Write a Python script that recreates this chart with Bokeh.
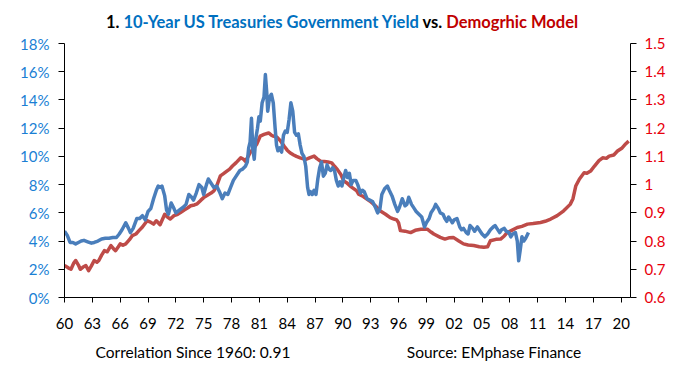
from bokeh.plotting import figure
from bokeh.models import (Range1d, LinearAxis, FixedTicker, CustomJSTickFormatter, Div)
from bokeh.layouts import column
from bokeh.embed import file_html
from bokeh.resources import INLINE

# ---------------- data ----------------
yield_years = [
    1960.0, 1960.3, 1960.6, 1960.9, 1961.2, 1961.5, 1961.8, 1962.1, 1962.5, 1962.9,
    1963.2, 1963.6, 1964.0, 1964.4, 1964.8, 1965.2, 1965.6, 1965.9, 1966.2, 1966.6,
    1966.9, 1967.1, 1967.4, 1967.8, 1968.1, 1968.4, 1968.7, 1969.0, 1969.3, 1969.6,
    1969.9, 1970.1, 1970.3, 1970.5, 1970.8, 1971.0, 1971.2, 1971.5, 1971.8, 1972.0,
    1972.4, 1972.8, 1973.1, 1973.4, 1973.7, 1973.9, 1974.2, 1974.5, 1974.8, 1975.0,
    1975.3, 1975.5, 1975.8, 1976.1, 1976.4, 1976.7, 1977.0, 1977.3, 1977.6, 1977.9,
    1978.2, 1978.5, 1978.9, 1979.2, 1979.5, 1979.7, 1979.85, 1980.0, 1980.15, 1980.3,
    1980.45, 1980.6, 1980.8, 1980.95, 1981.1, 1981.3, 1981.5, 1981.65, 1981.8, 1981.9,
    1982.1, 1982.3, 1982.5, 1982.7, 1982.85, 1983.0, 1983.2, 1983.4, 1983.6, 1983.8,
    1984.0, 1984.2, 1984.4, 1984.6, 1984.8, 1985.0, 1985.2, 1985.4, 1985.6, 1985.8,
    1986.0, 1986.2, 1986.35, 1986.5, 1986.7, 1986.9, 1987.1, 1987.3, 1987.5, 1987.7,
    1987.9, 1988.1, 1988.3, 1988.5, 1988.7, 1988.9, 1989.1, 1989.3, 1989.5, 1989.7,
    1989.9, 1990.1, 1990.3, 1990.5, 1990.7, 1990.9, 1991.1, 1991.4, 1991.6, 1991.9,
    1992.1, 1992.3, 1992.6, 1992.9, 1993.2, 1993.5, 1993.75, 1994.0, 1994.2, 1994.5,
    1994.8, 1995.0, 1995.3, 1995.6, 1995.9, 1996.1, 1996.4, 1996.7, 1996.9, 1997.1,
    1997.4, 1997.7, 1997.9, 1998.2, 1998.5, 1998.8, 1999.0, 1999.3, 1999.5, 1999.8,
    2000.0, 2000.3, 2000.5, 2000.8, 2001.0, 2001.2, 2001.4, 2001.6, 2001.8, 2002.0,
    2002.3, 2002.6, 2002.8, 2003.0, 2003.3, 2003.5, 2003.7, 2004.0, 2004.2, 2004.5,
    2004.8, 2005.0, 2005.3, 2005.6, 2005.9, 2006.2, 2006.4, 2006.6, 2006.9, 2007.1,
    2007.4, 2007.6, 2007.9, 2008.1, 2008.3, 2008.6, 2008.8, 2008.95, 2009.1, 2009.3,
    2009.5, 2009.7, 2009.85, 2010.0,
]
yield_pct = [
    4.7, 4.4, 3.9, 3.9, 3.8, 3.9, 4.0, 4.05, 3.95, 3.85,
    3.9, 4.0, 4.15, 4.2, 4.2, 4.25, 4.25, 4.5, 4.8, 5.3,
    4.9, 4.6, 4.9, 5.6, 5.6, 5.8, 5.5, 6.1, 6.3, 7.0,
    7.6, 7.9, 7.8, 7.9, 7.2, 6.2, 5.9, 6.7, 6.3, 6.0,
    6.2, 6.4, 6.6, 7.3, 7.1, 6.9, 7.4, 8.0, 7.8, 7.3,
    8.0, 8.4, 8.1, 7.8, 7.9, 7.5, 7.0, 7.4, 7.3, 7.8,
    8.3, 8.6, 9.0, 9.1, 9.3, 9.6, 10.6, 11.0, 12.7, 10.5,
    9.8, 11.2, 12.0, 12.8, 12.5, 13.8, 14.2, 15.8, 14.5, 13.2,
    14.2, 14.4, 13.8, 12.0, 10.8, 10.4, 10.6, 10.3, 11.5, 11.8,
    11.7, 12.6, 13.8, 13.2, 11.7, 11.5, 11.6, 10.8, 10.2, 10.0,
    9.3, 7.8, 7.3, 7.5, 7.3, 7.6, 7.3, 8.4, 9.2, 9.6,
    8.6, 8.8, 9.4, 9.1, 9.0, 9.2, 9.0, 8.3, 7.9, 8.2,
    7.9, 8.5, 9.0, 8.5, 8.8, 8.0, 8.3, 8.3, 8.0, 7.4,
    7.6, 7.5, 7.0, 6.9, 6.8, 6.4, 6.0, 6.3, 7.3, 7.7,
    7.9, 7.6, 7.2, 6.6, 6.1, 6.4, 7.0, 6.5, 6.6, 7.1,
    6.6, 6.3, 6.1, 5.9, 5.7, 5.0, 5.3, 5.6, 6.0, 6.3,
    6.6, 6.3, 6.0, 5.9, 5.6, 5.4, 5.7, 5.5, 5.3, 5.5,
    5.6, 5.0, 4.8, 4.9, 4.6, 4.5, 5.1, 4.9, 4.7, 5.0,
    4.7, 4.5, 4.3, 4.5, 4.8, 5.0, 5.1, 4.9, 4.6, 4.8,
    4.9, 4.7, 4.6, 4.3, 4.5, 4.6, 4.0, 2.6, 3.3, 4.3,
    4.0, 4.2, 4.4, 4.6,
]

model_years = [
    1960.0, 1960.4, 1960.7, 1961.0, 1961.2, 1961.5, 1961.7, 1962.0, 1962.3, 1962.6,
    1962.9, 1963.2, 1963.5, 1963.7, 1964.0, 1964.3, 1964.6, 1965.0, 1965.3, 1965.5,
    1965.8, 1966.0, 1966.3, 1966.6, 1967.0, 1967.3, 1967.7, 1968.0, 1968.4, 1968.9,
    1969.2, 1969.6, 1969.9, 1970.3, 1970.8, 1971.1, 1971.4, 1971.8, 1972.2, 1972.5,
    1972.9, 1973.3, 1973.6, 1974.0, 1974.3, 1974.7, 1975.0, 1975.4, 1975.8, 1976.1,
    1976.4, 1976.8, 1977.1, 1977.5, 1977.8, 1978.1, 1978.5, 1979.0, 1979.3, 1979.5,
    1979.8, 1980.0, 1980.3, 1980.7, 1981.1, 1981.5, 1982.0, 1982.3, 1982.5, 1982.9,
    1983.3, 1983.7, 1984.0, 1984.3, 1984.7, 1985.0, 1985.4, 1986.0, 1986.4, 1986.9,
    1987.2, 1987.6, 1988.0, 1988.4, 1988.8, 1989.1, 1989.4, 1989.8, 1990.1, 1990.4,
    1990.9, 1991.5, 1991.7, 1992.2, 1992.9, 1993.5, 1994.0, 1994.6, 1995.1, 1995.5,
    1995.8, 1996.0, 1996.2, 1996.7, 1997.3, 1997.8, 1998.4, 1999.1, 1999.5, 1999.8,
    2000.5, 2001.0, 2001.5, 2001.9, 2002.5, 2003.0, 2003.5, 2004.1, 2004.7, 2005.2,
    2005.6, 2005.9, 2006.5, 2007.0, 2007.4, 2007.7, 2008.2, 2008.8, 2009.3, 2009.9,
    2010.5, 2011.3, 2011.8, 2012.4, 2013.1, 2013.8, 2014.5, 2014.8, 2015.1, 2015.5,
    2016.0, 2016.3, 2016.7, 2017.1, 2017.6, 2018.0, 2018.4, 2018.7, 2019.2, 2019.6,
    2020.1, 2020.5, 2020.8,
]
model_vals = [
    0.713, 0.705, 0.700, 0.722, 0.731, 0.715, 0.700, 0.708, 0.713, 0.695,
    0.712, 0.731, 0.725, 0.731, 0.750, 0.766, 0.762, 0.784, 0.772, 0.766,
    0.780, 0.790, 0.785, 0.790, 0.805, 0.819, 0.825, 0.836, 0.850, 0.872,
    0.868, 0.860, 0.872, 0.858, 0.895, 0.885, 0.878, 0.890, 0.895, 0.901,
    0.910, 0.918, 0.925, 0.928, 0.932, 0.945, 0.954, 0.962, 0.970, 0.978,
    0.995, 1.031, 1.038, 1.048, 1.055, 1.066, 1.078, 1.095, 1.090, 1.083,
    1.100, 1.113, 1.125, 1.142, 1.172, 1.178, 1.183, 1.175, 1.172, 1.168,
    1.154, 1.135, 1.122, 1.113, 1.105, 1.100, 1.095, 1.089, 1.095, 1.101,
    1.092, 1.083, 1.082, 1.080, 1.077, 1.065, 1.054, 1.035, 1.013, 1.007,
    0.992, 0.978, 0.966, 0.958, 0.942, 0.925, 0.907, 0.895, 0.883, 0.878,
    0.875, 0.865, 0.837, 0.835, 0.830, 0.838, 0.842, 0.842, 0.832, 0.825,
    0.813, 0.807, 0.812, 0.813, 0.800, 0.790, 0.786, 0.784, 0.780, 0.778,
    0.780, 0.801, 0.806, 0.807, 0.818, 0.830, 0.838, 0.848, 0.852, 0.860,
    0.862, 0.866, 0.870, 0.878, 0.890, 0.907, 0.930, 0.950, 0.995, 1.020,
    1.042, 1.040, 1.048, 1.065, 1.085, 1.095, 1.093, 1.101, 1.105, 1.119,
    1.130, 1.145, 1.154,
]

x_ticks = [1960, 1963, 1966, 1969, 1972, 1975, 1978, 1981, 1984, 1987, 1990,
           1993, 1996, 1999, 2002, 2005, 2008, 2011, 2014, 2017, 2020]
left_ticks = [0, 2, 4, 6, 8, 10, 12, 14, 16, 18]
right_ticks = [0.6, 0.7, 0.8, 0.9, 1.0, 1.1, 1.2, 1.3, 1.4, 1.5]

title_parts = [
    ("1.", "black"),
    ("10-Year US Treasuries Government Yield", "#0070C0"),
    ("vs.", "black"),
    ("Demogrhic Model", "#C00000"),
]
footer_texts = ["Correlation Since 1960: 0.91", "Source: EMphase Finance"]

# ---------------- styling ----------------
FONT = "Lato"
BLUE_LINE = "#4A7EBB"
RED_LINE = "#BE4B48"
BLUE_TXT = "#1A7FD4"
RED_TXT = "#E8000B"

W = 676
TITLE_H = 34
FIG_H = 298
FOOT_H = 30
BL, BR, BT, BB = 64, 46, 9, 35

p = figure(width=W, height=FIG_H, output_backend="svg", toolbar_location=None,
           x_range=Range1d(1960, 2021), y_range=Range1d(0, 18),
           min_border_left=BL, min_border_right=BR, min_border_top=BT,
           min_border_bottom=BB, margin=(0, 0, 0, 0))
p.outline_line_color = None
p.grid.visible = False

p.extra_y_ranges = {"model": Range1d(0.6, 1.5)}

def style_axis(ax, color):
    ax.axis_line_color = "black"
    ax.axis_line_width = 1
    ax.major_tick_line_color = "black"
    ax.major_tick_in = 0
    ax.major_tick_out = 6
    ax.minor_tick_line_color = None
    ax.major_label_text_font = FONT
    ax.major_label_text_font_size = "15px"
    ax.major_label_text_color = color

xa = p.xaxis[0]
style_axis(xa, "black")
xa.ticker = FixedTicker(ticks=x_ticks)
xa.formatter = CustomJSTickFormatter(code="var v = Math.round(tick) % 100; return (v < 10 ? '0' : '') + v;")
xa.major_tick_out = 5
xa.major_label_standoff = 15

ya = p.yaxis[0]
style_axis(ya, BLUE_TXT)
ya.ticker = FixedTicker(ticks=left_ticks)
ya.formatter = CustomJSTickFormatter(code="return Math.round(tick) + '%';")
ya.major_label_standoff = 9

ra = LinearAxis(y_range_name="model")
style_axis(ra, RED_TXT)
ra.ticker = FixedTicker(ticks=right_ticks)
ra.formatter = CustomJSTickFormatter(code="return String(Number(tick.toFixed(1)));")
ra.major_label_standoff = 8
p.add_layout(ra, "right")

# ---------------- lines ----------------
p.line(model_years, model_vals, y_range_name="model", line_color=RED_LINE,
       line_width=3.5, line_join="round")
p.line(yield_years, yield_pct, line_color=BLUE_LINE, line_width=3.5, line_join="round")

# ---------------- title and footer ----------------
spans = " ".join(f'<span style="color:{c}">{t}</span>' for t, c in title_parts)
title_html = (
    f'<div style="position:relative;width:{W}px;height:{TITLE_H}px;">'
    f'<div style="position:absolute;left:4px;top:12px;width:{W}px;text-align:center;'
    f'font-family:{FONT};font-weight:bold;font-size:16.5px;line-height:20px;white-space:nowrap;">'
    f'{spans}</div></div>'
)
title_div = Div(text=title_html, width=W, height=TITLE_H, margin=(0, 0, 0, 0))

foot_centers = [193, 494]
foot_spans = "".join(
    f'<span style="position:absolute;left:{cx}px;top:10px;transform:translateX(-50%);'
    f'white-space:nowrap;line-height:20px;">{t}</span>'
    for t, cx in zip(footer_texts, foot_centers)
)
foot_html = (
    f'<div style="position:relative;width:{W}px;height:{FOOT_H}px;font-family:{FONT};'
    f'font-size:15.5px;color:black;">{foot_spans}</div>'
)
foot_div = Div(text=foot_html, width=W, height=FOOT_H, margin=(0, 0, 0, 0))

layout = column(title_div, p, foot_div, spacing=0, margin=(0, 0, 0, 0))

open("out.html", "w").write(file_html(layout, INLINE))
